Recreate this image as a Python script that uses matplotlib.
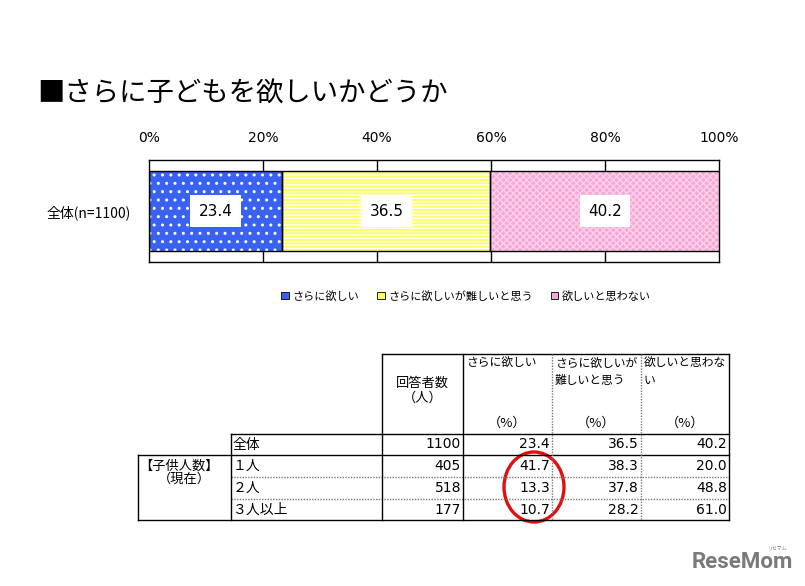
import matplotlib
matplotlib.use('Agg')
import matplotlib.pyplot as plt
from matplotlib.patches import Patch, Ellipse

plt.rcParams['font.family'] = ['Noto Sans CJK JP', 'DejaVu Sans']
plt.rcParams['hatch.linewidth'] = 1.0

W, H = 805, 586

title = '■さらに子どもを欲しいかどうか'
series = ['さらに欲しい', 'さらに欲しいが難しいと思う', '欲しいと思わない']
colors = ['#3a62f2', '#ffff66', '#f7a6d6']
hatch_colors = ['white', 'white', '#fcd2ea']
hatches = ['..', '-----', 'xxxxx']
category = '全体(n=1100)'
overall = [23.4, 36.5, 40.2]
ticks = [0, 20, 40, 60, 80, 100]

table_head = ['回答者数\n（人）', 'さらに欲しい', 'さらに欲しいが\n難しいと思う', '欲しいと思わな\nい']
row_group = '【子供人数】'
row_group2 = '（現在）'
row_labels = ['全体', '１人', '２人', '３人以上']
respondents = [1100, 405, 518, 177]
want_more = [23.4, 41.7, 13.3, 10.7]
hard = [36.5, 38.3, 37.8, 28.2]
no_more = [40.2, 20.0, 48.8, 61.0]


def px_axes(fig, x0, y0, x1, y1):
    return fig.add_axes([x0 / W, 1 - y1 / H, (x1 - x0) / W, (y1 - y0) / H])


fig = plt.figure(figsize=(W / 100, H / 100), dpi=100)

# overlay in pixel coordinates for title, table and logo
bg = fig.add_axes([0, 0, 1, 1])
bg.set_xlim(0, W)
bg.set_ylim(H, 0)
bg.axis('off')

bg.text(37, 94, title, fontsize=19.7, va='center', ha='left')

# ---- stacked bar ----
ax = px_axes(fig, 149, 160, 719, 262)
left = 0
for v, c, hc, h in zip(overall, colors, hatch_colors, hatches):
    ax.barh(0, v, left=left, height=0.794, color=c, edgecolor=hc, hatch=h, linewidth=0, zorder=2)
    ax.barh(0, v, left=left, height=0.794, fill=False, edgecolor='black', linewidth=1, zorder=3)
    ax.text(left + v / 2, 0, f'{v:.1f}', ha='center', va='center', fontsize=11,
            family='DejaVu Sans', zorder=4,
            bbox=dict(facecolor='white', edgecolor='none', pad=6))
    left += v
ax.set_xlim(0, 100)
ax.set_ylim(-0.5, 0.5)
ax.set_xticks(ticks)
ax.set_xticklabels([f'{t}%' for t in ticks], family='DejaVu Sans', fontsize=10)
ax.xaxis.tick_top()
ax.tick_params(axis='x', length=0, pad=11)
ax.set_yticks([0])
ax.set_yticklabels([category], fontsize=10)
ax.tick_params(axis='y', length=0, pad=13)
for t in ticks[1:-1]:
    ax.axvline(t, color='black', linewidth=1, zorder=1)
for s in ax.spines.values():
    s.set_linewidth(1)

handles = [Patch(facecolor=c, edgecolor='black', linewidth=0.6) for c in colors]
fig.legend(handles, series, loc='center', bbox_to_anchor=(466 / W, 1 - 296 / H),
           ncol=3, frameon=False, fontsize=8, handlelength=0.7, handleheight=0.7,
           handletextpad=0.3, columnspacing=1.6)

# ---- table ----
cols = [138, 231, 382, 463, 552, 641, 729]
rows = [354, 434, 455, 477, 499, 520]
lw = 1.0
bg.plot([cols[2], cols[6]], [rows[0], rows[0]], color='black', lw=lw)
bg.plot([cols[1], cols[6]], [rows[1], rows[1]], color='black', lw=lw)
bg.plot([cols[0], cols[6]], [rows[2], rows[2]], color='black', lw=lw)
bg.plot([cols[0], cols[6]], [rows[5], rows[5]], color='black', lw=lw)
for r in rows[3:5]:
    bg.plot([cols[1], cols[6]], [r, r], color='#777777', lw=lw, ls=(0, (1, 1)))
bg.plot([cols[0], cols[0]], [rows[2], rows[5]], color='black', lw=lw)
bg.plot([cols[1], cols[1]], [rows[1], rows[5]], color='black', lw=lw)
for c in (cols[2], cols[3], cols[6]):
    bg.plot([c, c], [rows[0], rows[5]], color='black', lw=lw)
for c in (cols[4], cols[5]):
    bg.plot([c, c], [rows[0], rows[5]], color='#777777', lw=lw, ls=(0, (1, 1)))

bg.text((cols[2] + cols[3]) / 2, 391, table_head[0], ha='center', va='center',
        fontsize=9.5, linespacing=1.2)
for i, head in enumerate(table_head[1:]):
    x0 = cols[3 + i]
    bg.text(x0 + 3, 357, head, ha='left', va='top', fontsize=8.5, linespacing=1.35)
    bg.text((x0 + cols[4 + i]) / 2, 423, '（%）', ha='center', va='center', fontsize=9.5)

bg.text(139, 466, row_group, ha='left', va='center', fontsize=9.5)
bg.text(184, 479, row_group2, ha='center', va='center', fontsize=9.5)

centers = [(rows[i] + rows[i + 1]) / 2 for i in range(1, 5)]
for i, y in enumerate(centers):
    bg.text(cols[1] + 2, y, row_labels[i], ha='left', va='center', fontsize=10)
    bg.text(cols[3] - 2, y, f'{respondents[i]}', ha='right', va='center', fontsize=10,
            family='DejaVu Sans')
    for j, vals in enumerate((want_more, hard, no_more)):
        bg.text(cols[4 + j] - 2, y, f'{vals[i]:.1f}', ha='right', va='center', fontsize=10,
                family='DejaVu Sans')

bg.add_patch(Ellipse((534, 487), 60, 70, fill=False, edgecolor='#e01010', linewidth=2.4))

# logo
bg.text(742, 562, 'ReseMom', ha='center', va='center', fontsize=16, fontweight='bold',
        family='Roboto', color='#7a7a7a')
bg.text(778, 548, 'リセマム', ha='center', va='center', fontsize=3.5, color='#7a7a7a')

fig.savefig('out.png', dpi=100)
